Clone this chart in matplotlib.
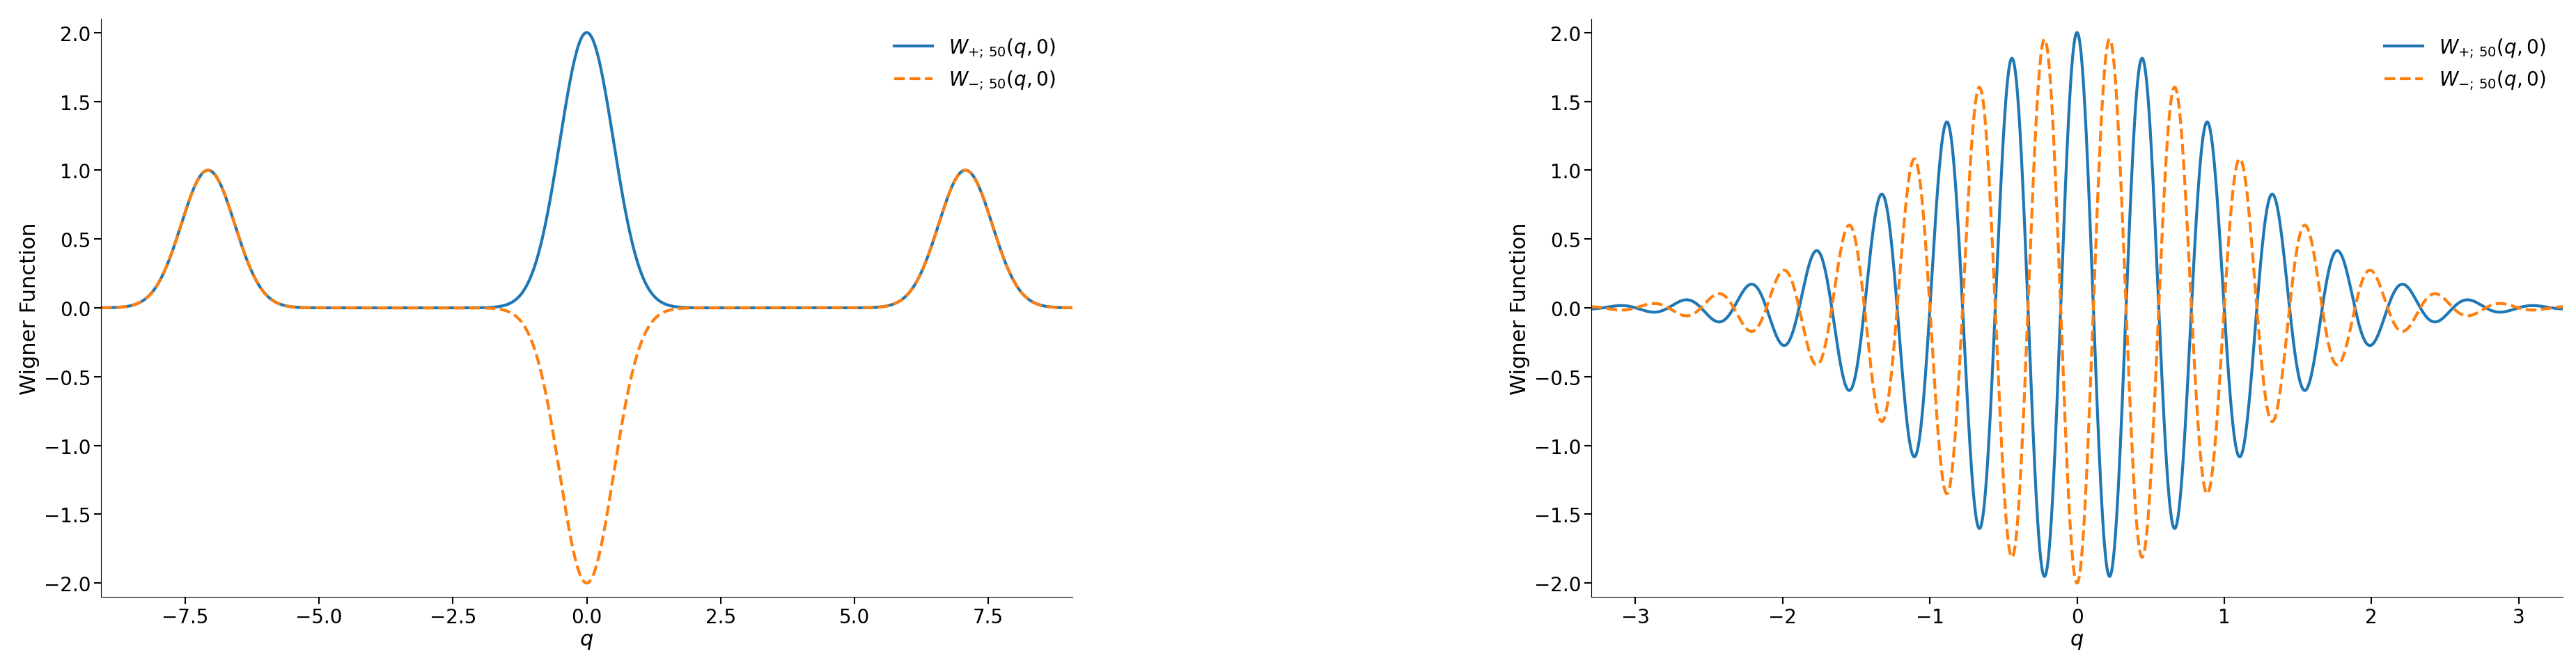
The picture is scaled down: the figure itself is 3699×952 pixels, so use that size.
import numpy as np
import matplotlib
matplotlib.use("Agg")
import matplotlib.pyplot as plt

# parameters of the cat-state Wigner function (alpha^2 = 50)
n_photon = 50
q0 = np.sqrt(n_photon)
left_range = (-9.07, 9.07)
right_range = (-3.3, 3.3)
labels = [r"$W_{+;\,50}(q,0)$", r"$W_{-;\,50}(q,0)$"]

q = np.linspace(*left_range, 3000)
side = np.exp(-2*(q - q0)**2) + np.exp(-2*(q + q0)**2)
mid = 2*np.exp(-2*q**2)
Wp_left = side + mid
Wm_left = side - mid

p = np.linspace(*right_range, 6000)
env = 2*np.exp(-p**2/2)
Wp_right = env*np.cos(2*q0*p)
Wm_right = -env*np.cos(2*q0*p)

plt.rcParams['font.size'] = 20
fig = plt.figure(figsize=(36.99, 9.53), dpi=100)
ax1 = fig.add_axes([145/3699, 95/953, 1395/3699, 830/953])
ax2 = fig.add_axes([2285/3699, 95/953, 1395/3699, 830/953])
for ax, x, a, b, xr in [(ax1, q, Wp_left, Wm_left, left_range), (ax2, p, Wp_right, Wm_right, right_range)]:
    ax.plot(x, a, color='#1f77b4', lw=3, label=labels[0])
    ax.plot(x, b, color='#ff7f0e', lw=3, ls='--', label=labels[1])
    ax.set_xlim(*xr)
    ax.set_ylim(-2.1, 2.1)
    ax.set_xlabel(r"$q$", fontsize=22)
    ax.set_ylabel("Wigner Function", fontsize=22)
    ax.spines['top'].set_visible(False)
    ax.spines['right'].set_visible(False)
    ax.tick_params(labelsize=20, width=1.5, length=7)
    ax.legend(frameon=False, fontsize=20, loc='upper right')
ax1.set_xticks([-7.5, -5, -2.5, 0, 2.5, 5, 7.5])
ax2.set_xticks([-3, -2, -1, 0, 1, 2, 3])
fig.savefig("out.png", dpi=100)
